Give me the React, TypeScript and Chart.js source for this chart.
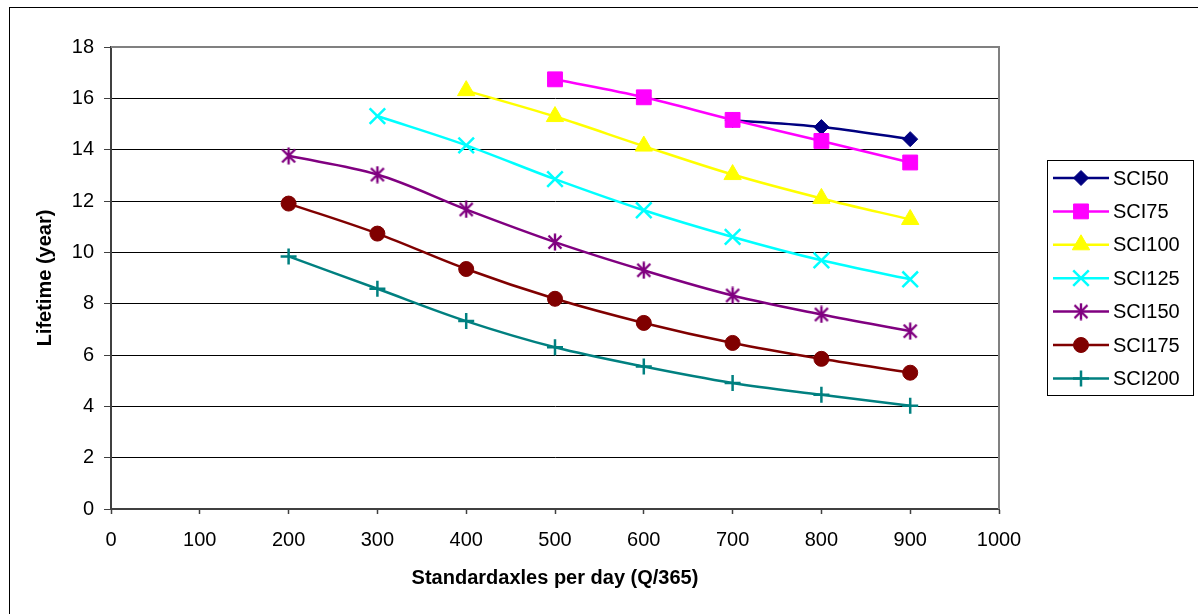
import React, { useEffect, useRef } from "react";
import { Chart, registerables } from "chart.js";
import { drawPoint } from "chart.js/helpers";

Chart.register(...registerables);

const xValues = [200, 300, 400, 500, 600, 700, 800, 900];
const sci50 = [null, null, null, null, null, 15.15, 14.88, 14.41];
const sci75 = [null, null, null, 16.74, 16.04, 15.16, 14.34, 13.5];
const sci100 = [null, null, 16.3, 15.29, 14.14, 13.03, 12.1, 11.28];
const sci125 = [null, 15.31, 14.17, 12.85, 11.64, 10.6, 9.69, 8.95];
const sci150 = [13.76, 13.03, 11.67, 10.4, 9.3, 8.32, 7.58, 6.93];
const sci175 = [11.9, 10.73, 9.35, 8.19, 7.25, 6.47, 5.85, 5.31];
const sci200 = [9.84, 8.58, 7.32, 6.3, 5.55, 4.91, 4.45, 4.02];

const seriesNames = ["SCI50", "SCI75", "SCI100", "SCI125", "SCI150", "SCI175", "SCI200"];
const seriesValues = [sci50, sci75, sci100, sci125, sci150, sci175, sci200];
const seriesColors = ["#000080", "#FF00FF", "#FFFF00", "#00FFFF", "#800080", "#800000", "#008080"];

const yTickValues = [0, 2, 4, 6, 8, 10, 12, 14, 16, 18];
const xTickValues = [0, 100, 200, 300, 400, 500, 600, 700, 800, 900, 1000];

const xTitle = "Standardaxles per day (Q/365)";
const yTitle = "Lifetime (year)";
const FONT = "'Liberation Sans', Arial, sans-serif";

function makeStar(color: string): HTMLCanvasElement {
  const c = document.createElement("canvas");
  c.width = 18;
  c.height = 18;
  const g = c.getContext("2d")!;
  g.strokeStyle = color;
  g.lineWidth = 2.4;
  g.beginPath();
  g.moveTo(9 - 6.5, 9 - 6.5);
  g.lineTo(9 + 6.5, 9 + 6.5);
  g.moveTo(9 + 6.5, 9 - 6.5);
  g.lineTo(9 - 6.5, 9 + 6.5);
  g.moveTo(9, 0.5);
  g.lineTo(9, 17.5);
  g.stroke();
  return c;
}

export default function App() {
  const ref = useRef<HTMLCanvasElement | null>(null);

  useEffect(() => {
    const canvas = ref.current;
    if (!canvas) return;
    const star = makeStar(seriesColors[4]);
    const pointStyles: any[] = ["rectRot", "rect", "triangle", "crossRot", star, "circle", "cross"];
    const radii = [7.5, 10.5, 10, 11, 8, 7.5, 8];
    const borderWidths = [1, 1, 1, 2.5, 2.5, 1, 2.5];

    const datasets = seriesNames.map((name, i) => ({
      label: name,
      order: -i,
      data: xValues
        .map((x, j) => ({ x, y: seriesValues[i][j] }))
        .filter((p) => p.y !== null),
      borderColor: seriesColors[i],
      backgroundColor: seriesColors[i],
      pointBackgroundColor: seriesColors[i],
      pointBorderColor: seriesColors[i],
      pointStyle: pointStyles[i],
      pointRadius: radii[i],
      pointBorderWidth: borderWidths[i],
      borderWidth: 2.5,
      tension: 0.35,
      fill: false,
    }));

    const framePlugin = {
      id: "frame",
      beforeDraw(chart: any) {
        const ctx = chart.ctx;
        ctx.save();
        ctx.fillStyle = "#ffffff";
        ctx.fillRect(0, 0, chart.width, chart.height);
        ctx.strokeStyle = "#000000";
        ctx.lineWidth = 1;
        ctx.strokeRect(9.5, 7.5, 1400, 800);
        ctx.restore();
      },
      beforeDatasetsDraw(chart: any) {
        const { ctx, chartArea } = chart;
        ctx.save();
        ctx.strokeStyle = "#808080";
        ctx.lineWidth = 2;
        ctx.beginPath();
        ctx.moveTo(chartArea.left, chartArea.top);
        ctx.lineTo(chartArea.right, chartArea.top);
        ctx.lineTo(chartArea.right, chartArea.bottom);
        ctx.stroke();
        ctx.restore();
      },
      afterDraw(chart: any) {
        const ctx = chart.ctx;
        ctx.save();
        ctx.strokeStyle = "#000000";
        ctx.lineWidth = 1;
        ctx.strokeRect(1047.5, 160.5, 146, 235);
        const startY = 178;
        const step = 33.4;
        seriesNames.forEach((name, i) => {
          const y = startY + i * step;
          ctx.strokeStyle = seriesColors[i];
          ctx.lineWidth = 2.5;
          ctx.beginPath();
          ctx.moveTo(1053, y);
          ctx.lineTo(1109, y);
          ctx.stroke();
          ctx.fillStyle = seriesColors[i];
          ctx.strokeStyle = seriesColors[i];
          ctx.lineWidth = borderWidths[i];
          drawPoint(ctx, {
            pointStyle: pointStyles[i],
            rotation: 0,
            radius: radii[i],
            borderWidth: borderWidths[i],
          } as any, 1081, y);
          ctx.fillStyle = "#000000";
          ctx.font = `20px ${FONT}`;
          ctx.textAlign = "left";
          ctx.textBaseline = "middle";
          ctx.fillText(name, 1113, y + 1);
        });
        ctx.restore();
      },
    };

    const chart = new Chart(canvas, {
      type: "line",
      data: { datasets },
      options: {
        responsive: false,
        animation: false,
        events: [],
        layout: { padding: { top: 47, right: 199, left: 0, bottom: 0 } },
        plugins: { legend: { display: false }, tooltip: { enabled: false } },
        scales: {
          x: {
            type: "linear",
            min: 0,
            max: 1000,
            afterBuildTicks: (s: any) => {
              s.ticks = xTickValues.map((v) => ({ value: v }));
            },
            afterFit: (s: any) => {
              s.height = 105;
            },
            grid: {
              drawOnChartArea: false,
              drawTicks: true,
              tickLength: 5,
              tickColor: "#404040",
              tickWidth: 1.5,
            },
            border: { display: true, color: "#404040", width: 2 },
            ticks: {
              color: "#000000",
              font: { family: FONT, size: 20 },
              padding: 14,
              maxRotation: 0,
              autoSkip: false,
              callback: (v: any) => String(v),
            },
            title: {
              display: true,
              text: xTitle,
              color: "#000000",
              font: { family: FONT, size: 20, weight: "bold" },
              padding: { top: 0, bottom: 24 },
            },
          },
          y: {
            type: "linear",
            min: 0,
            max: 18,
            afterBuildTicks: (s: any) => {
              s.ticks = yTickValues.map((v) => ({ value: v }));
            },
            afterFit: (s: any) => {
              s.width = 111;
            },
            grid: {
              color: "#000000",
              lineWidth: 1,
              drawTicks: true,
              tickLength: 7,
              tickColor: "#404040",
            },
            border: { display: true, color: "#404040", width: 2 },
            ticks: {
              color: "#000000",
              font: { family: FONT, size: 20 },
              padding: 10,
              autoSkip: false,
              callback: (v: any) => String(v),
            },
            title: {
              display: true,
              text: yTitle,
              color: "#000000",
              font: { family: FONT, size: 20, weight: "bold" },
              padding: { top: 33, bottom: 0 },
            },
          },
        },
      },
      plugins: [framePlugin],
    } as any);

    return () => chart.destroy();
  }, []);

  return (
    <div style={{ position: "absolute", left: 0, top: 0, width: 1198, height: 614 }}>
      <canvas ref={ref} width={1198} height={614} style={{ display: "block" }} />
    </div>
  );
}
